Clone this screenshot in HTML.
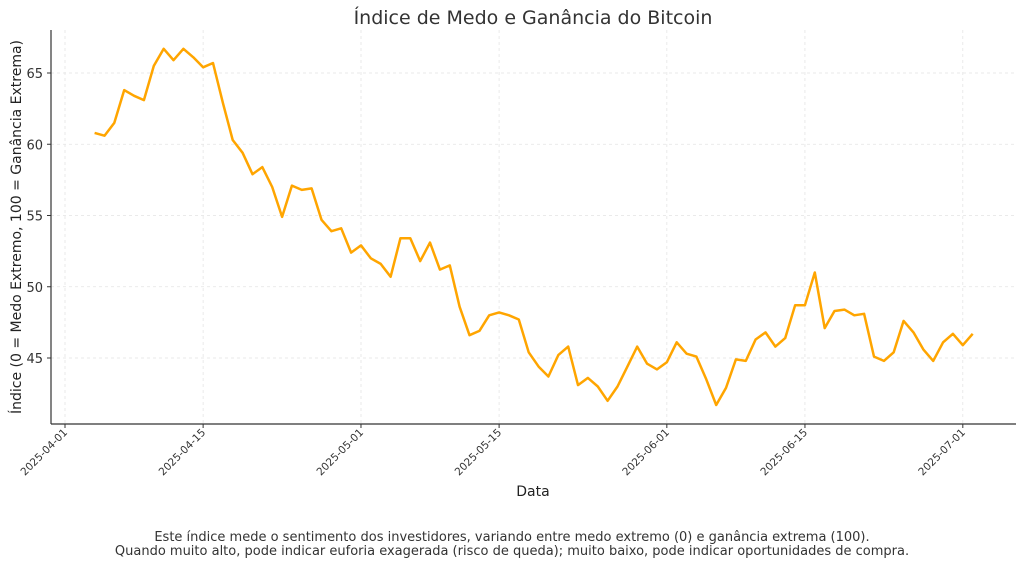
<!DOCTYPE html>
<html><head><meta charset="utf-8"><style>
html,body{margin:0;padding:0;background:#fff;}
svg{display:block;font-family:"DejaVu Sans","Liberation Sans",sans-serif;}
</style></head><body>
<svg id="chart" width="1024" height="566" viewBox="0 0 1024 566">
<text x="533" y="24" text-anchor="middle" font-size="19" fill="#333">Índice de Medo e Ganância do Bitcoin</text>
<g id="grid"></g>
<g id="axes"></g>
<path id="line" fill="none" stroke="#FFA500" stroke-width="2.5" stroke-linejoin="round"></path>
<text x="533" y="496" text-anchor="middle" font-size="14" fill="#222">Data</text>
<text transform="translate(21,227) rotate(-90)" text-anchor="middle" font-size="14" fill="#222">Índice (0 = Medo Extremo, 100 = Ganância Extrema)</text>
<text x="512" y="541" text-anchor="middle" font-size="13" fill="#333">Este índice mede o sentimento dos investidores, variando entre medo extremo (0) e ganância extrema (100).</text>
<text x="512" y="555" text-anchor="middle" font-size="13" fill="#333">Quando muito alto, pode indicar euforia exagerada (risco de queda); muito baixo, pode indicar oportunidades de compra.</text>
</svg>
<script>
const startDate = "2025-04-04";
const values = [60.8,60.6,61.5,63.8,63.4,63.1,65.5,66.7,65.9,66.7,66.1,65.4,65.7,62.9,60.3,59.4,57.9,58.4,57.0,54.9,57.1,56.8,56.9,54.7,53.9,54.1,52.4,52.9,52.0,51.6,50.7,53.4,53.4,51.8,53.1,51.2,51.5,48.6,46.6,46.9,48.0,48.2,48.0,47.7,45.4,44.4,43.7,45.2,45.8,43.1,43.6,43.0,42.0,43.0,44.4,45.8,44.6,44.2,44.7,46.1,45.3,45.1,43.5,41.7,42.9,44.9,44.8,46.3,46.8,45.8,46.4,48.7,48.7,51.0,47.1,48.3,48.4,48.0,48.1,45.1,44.8,45.4,47.6,46.8,45.6,44.8,46.1,46.7,45.9,46.7];
const xTickLabels = ["2025-04-01","2025-04-15","2025-05-01","2025-05-15","2025-06-01","2025-06-15","2025-07-01"];
const yTickValues = [45,50,55,60,65];

const NS="http://www.w3.org/2000/svg";
const L=51,R=1016,T=30,B=424;
const day0=Date.UTC(2025,3,1);
function dayOf(s){const p=s.split('-');return (Date.UTC(+p[0],p[1]-1,+p[2])-day0)/86400000;}
function xScale(d){return 65+d*9.866;}
function yScale(v){return 358-(v-45)*14.25;}
const grid=document.getElementById('grid'),axes=document.getElementById('axes');
function mk(tag,attrs,parent){const e=document.createElementNS(NS,tag);for(const k in attrs)e.setAttribute(k,attrs[k]);parent.appendChild(e);return e;}
yTickValues.forEach(v=>{
  const y=yScale(v);
  const g=mk('line',{x1:L,x2:R,y1:y,y2:y,stroke:'#e4e4e4','stroke-dasharray':'3,3','stroke-width':0.8},grid);
  
  
  const t=mk('line',{x1:L-4,x2:L,y1:y,y2:y,stroke:'#333'},axes);
  
  
  const tx=mk('text',{x:L-8,y:y+5,'text-anchor':'end','font-size':13,fill:'#333'},axes);
  tx.textContent=v;
  
  
});
xTickLabels.forEach(s=>{
  const x=xScale(dayOf(s));
  const g=mk('line',{x1:x,x2:x,y1:T,y2:B,stroke:'#e4e4e4','stroke-dasharray':'3,3','stroke-width':0.8},grid);
  
  
  const t=mk('line',{x1:x,x2:x,y1:B,y2:B+4,stroke:'#333'},axes);
  
  
  const tx=mk('text',{transform:`translate(${x+3},${B+9}) rotate(-45)`,'text-anchor':'end','font-size':10.5,fill:'#333'},axes);
  tx.textContent=s;
  
  
});
const sp1=mk('line',{x1:L,x2:L,y1:T,y2:B,stroke:'#333','stroke-width':1.2},axes);


const sp2=mk('line',{x1:L,x2:R,y1:B,y2:B,stroke:'#333','stroke-width':1.2},axes);


const d0=dayOf(startDate);
document.getElementById('line').setAttribute('d',values.map((v,i)=>(i?'L':'M')+xScale(d0+i).toFixed(1)+','+yScale(v).toFixed(1)).join(''));
</script>
</body></html>
